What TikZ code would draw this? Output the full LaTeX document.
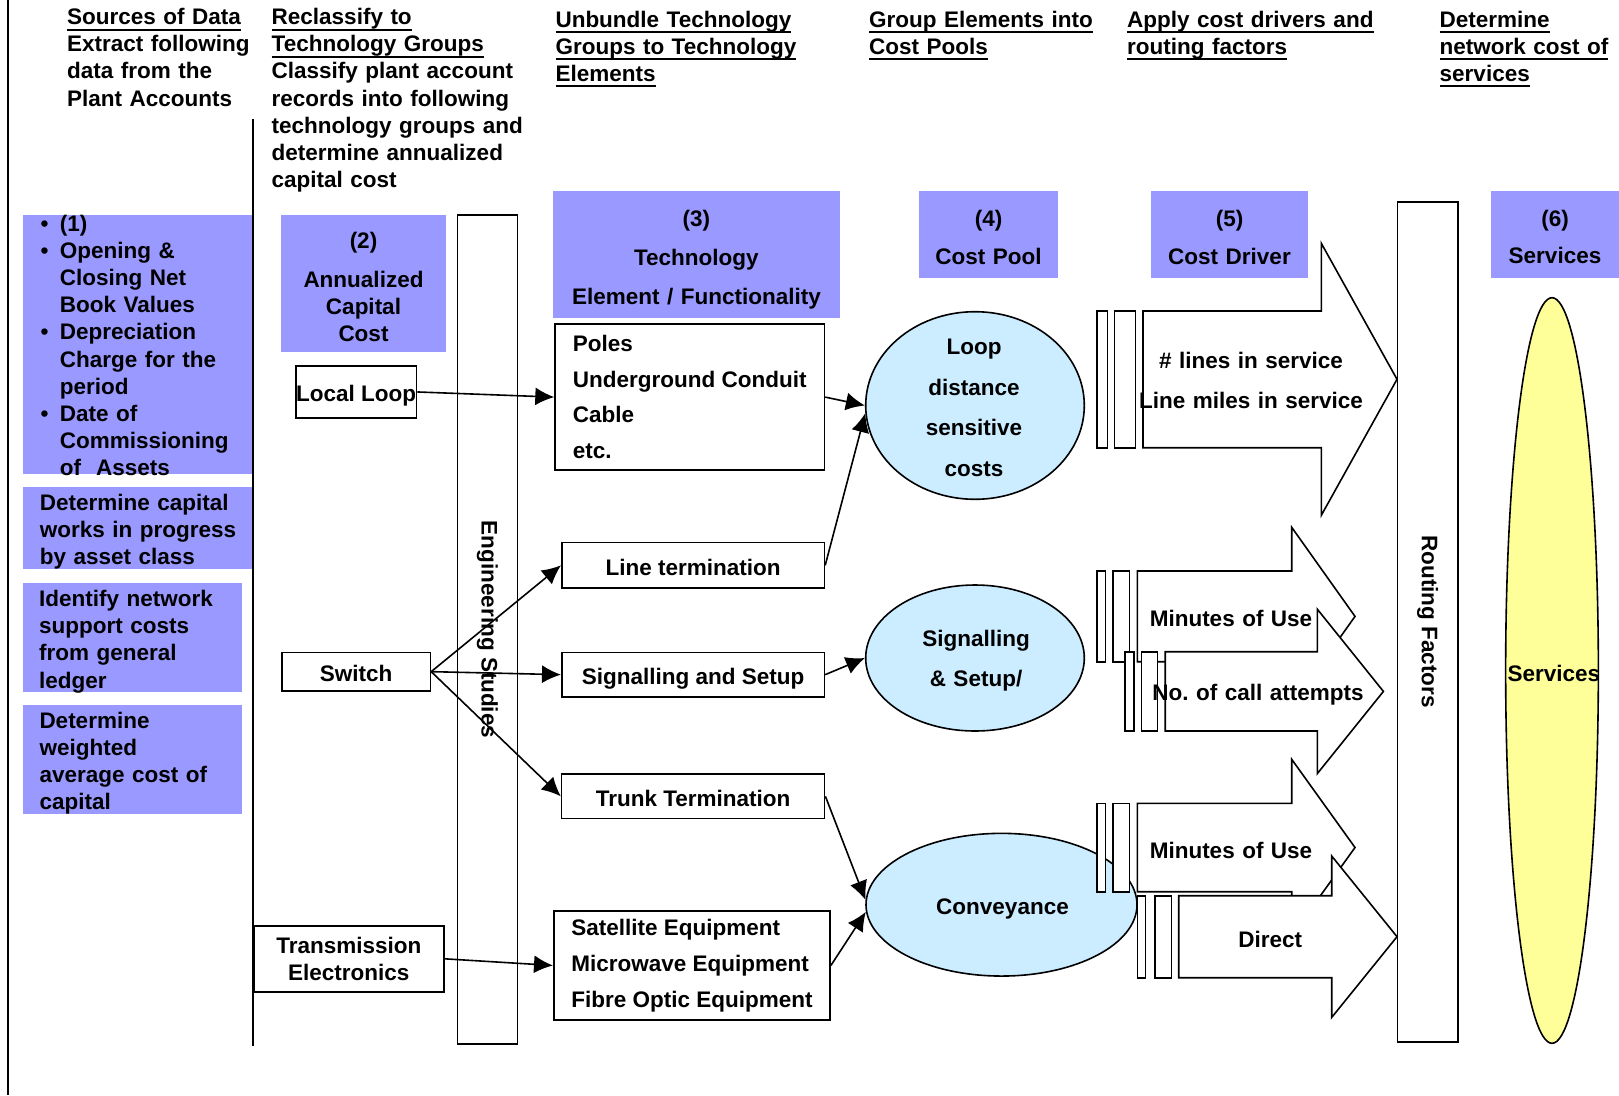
\documentclass[tikz,border=0pt]{standalone}
\usepackage{fontspec}
\setmainfont{Liberation Sans}
\usetikzlibrary{arrows.meta,shapes.geometric}

\definecolor{stepblue}{RGB}{153,153,255}
\definecolor{poolblue}{RGB}{204,236,255}
\definecolor{svcyellow}{RGB}{255,255,153}

% underlined heading line
\newcommand\hdr[1]{\leavevmode\setbox0\hbox{#1}\rlap{\rule[-6pt]{\wd0}{2pt}}\box0}
\newcommand\bul{\leavevmode\makebox[16.6pt][l]{\hspace*{-2.5pt}\textbullet}}
\newcommand\ind{\leavevmode\hspace*{16.6pt}}

\begin{document}
\begin{tikzpicture}[x=1pt,y=-1pt,
  txt/.style={font=\bfseries\fontsize{22.5}{27.2}\selectfont, inner sep=0pt,
              text width=#1, align=left, anchor=base west},
  txt/.default=260pt,
  ctr/.style={font=\bfseries\fontsize{22.5}{#1}\selectfont, inner sep=0pt,
              text width=300pt, align=center, anchor=base},
  ctr/.default=27.2pt,
  blu/.style={fill=stepblue, inner sep=0pt, anchor=north west},
  wbox/.style={draw, line width=1.6pt, fill=white, inner sep=0pt,
               font=\bfseries\fontsize{22.5}{27.2}\selectfont},
  tbox/.style={wbox, anchor=north west, text height=20pt, text depth=0pt},
  pool/.style={ellipse, draw, line width=1.6pt, fill=poolblue, inner sep=0pt},
  fat/.style={draw, line width=1.6pt, fill=white},
  arr/.style={-{Latex[length=19pt,width=18pt]}, line width=1.6pt},
  colsep/.style={line width=1.8pt}]
\useasboundingbox (0,0) rectangle (1619,1095);
% ---- column headings ----
\node[txt=300pt] (h1) at (67,24.5)
  {\hdr{Sources of Data}\\Extract following\\data from the\\Plant Accounts};
\node[txt=300pt] (h2) at (271.5,24.5)
  {\hdr{Reclassify to}\\\hdr{Technology Groups}\\Classify plant account\\
   records into following\\technology groups and\\determine annualized\\capital cost};
\node[txt=300pt] (h3) at (555.3,27)
  {\hdr{Unbundle Technology}\\\hdr{Groups to Technology}\\\hdr{Elements}};
\node[txt=300pt] (h4) at (869,27) {\hdr{Group Elements into}\\\hdr{Cost Pools}};
\node[txt=300pt] (h5) at (1127,27) {\hdr{Apply cost drivers and}\\\hdr{routing factors}};
\node[txt=300pt] (h6) at (1439.5,27) {\hdr{Determine}\\\hdr{network cost of}\\\hdr{services}};
% ---- column 1: data sources ----
\node[blu, minimum width=229pt, minimum height=259pt] (src1) at (23,215) {};
\node[txt] (src1t) at (43,231)
  {\bul(1)\\\bul Opening \&\\\ind Closing Net\\\ind Book Values\\
   \bul Depreciation\\\ind Charge for the\\\ind period\\\bul Date of\\
   \ind Commissioning\\\ind of~ Assets};
\node[blu, minimum width=230pt, minimum height=82pt] (src2) at (23,487) {};
\node[txt] (src2t) at (39.6,510.5) {Determine capital\\works in progress\\by asset class};
\node[blu, minimum width=219pt, minimum height=109pt] (src3) at (23,583) {};
\node[txt] (src3t) at (39,606.5) {Identify network\\support costs\\from general\\ledger};
\node[blu, minimum width=219pt, minimum height=109pt] (src4) at (23,705) {};
\node[txt] (src4t) at (39.3,728) {Determine\\weighted\\average cost of\\capital};
\draw[colsep] (8,0) -- (8,1095);
\draw[colsep] (253,119) -- (253,1046);
% ---- column 2: technology groups ----
\node[blu, minimum width=165pt, minimum height=136.7pt] (st2) at (281,215) {};
\node[ctr] (st2t) at (363.5,248) {(2)\\[11.8pt]Annualized\\Capital\\Cost};
\node[tbox, minimum width=120.7pt, minimum height=52.3pt] (ll) at (295,365) {Local Loop};
\node[tbox, minimum width=148.6pt, minimum height=38.3pt] (sw) at (281,651.7) {Switch};
\node[wbox, align=center, minimum width=190pt, minimum height=66pt, anchor=north west] (te) at (253,925) {Transmission\\Electronics};
\node[wbox, rotate=-90, minimum width=829pt, minimum height=60pt] (eng) at (487.3,629.5) {Engineering Studies};
% ---- column 3: technology elements ----
\node[blu, minimum width=287.2pt, minimum height=126.3pt] (st3) at (552.8,191) {};
\node[ctr=39.2pt] (st3t) at (696.4,226.3) {(3)\\Technology\\Element / Functionality};
\node[wbox, minimum width=269.3pt, minimum height=146pt, anchor=north west, align=left,
      font=\bfseries\fontsize{22.5}{35.5}\selectfont] (poles) at (554.3,323.3)
  {Poles\\Underground Conduit\\Cable\\etc.};
\node[tbox, minimum width=262.6pt, minimum height=45.6pt] (lt) at (561,541.7) {Line termination};
\node[tbox, minimum width=262.6pt, minimum height=44.3pt] (ss) at (561,651.7) {Signalling and Setup};
\node[tbox, minimum width=263pt, minimum height=44.4pt] (tt) at (560.8,773.3) {Trunk Termination};
\node[wbox, minimum width=276.3pt, minimum height=109.3pt, anchor=north west, align=left,
      font=\bfseries\fontsize{22.5}{35.8}\selectfont] (sat) at (553,910)
  {Satellite Equipment\\Microwave Equipment\\Fibre Optic Equipment};
% ---- column 4: cost pools ----
\node[blu, minimum width=139pt, minimum height=86.7pt] (st4) at (919,191) {};
\node[ctr=37.7pt] (st4t) at (988.5,226.3) {(4)\\Cost Pool};
\node[pool, minimum width=218.6pt, minimum height=187.6pt] (loop) at (975,405.5) {};
\node[ctr=40.5pt] (loopt) at (974,354.7) {Loop\\distance\\sensitive\\costs};
\node[pool, minimum width=218.6pt, minimum height=146pt] (sig) at (975,658) {};
\node[ctr=40pt] (sigt) at (976,646.3) {Signalling\\\& Setup/};
\node[pool, minimum width=271pt, minimum height=142.7pt] (conv) at (1001.5,904.7) {};
\node[ctr] (convt) at (1002.5,914.7) {Conveyance};
% ---- column 5: cost drivers ----
\node[blu, minimum width=157pt, minimum height=86.7pt] (st5) at (1151,191) {};
\node[ctr=37.7pt] (st5t) at (1229.5,226.3) {(5)\\Cost Driver};
\node[wbox, rotate=-90, minimum width=840pt, minimum height=60.4pt] (rf) at (1427.5,621.7) {Routing Factors};
% lines in service
\draw[fat] (1097,311) rectangle (1107.4,447.7);
\draw[fat] (1114.5,311) rectangle (1135.6,447.7);
\draw[fat] (1143,311) -- (1321.3,311) -- (1321.3,243.3) -- (1397,379.3)
  -- (1321.3,515.3) -- (1321.3,447.7) -- (1143,447.7) -- cycle;
\node[ctr=40pt] (drv1) at (1251,368) {\# lines in service\\Line miles in service};
% minutes of use (signalling)
\draw[fat] (1097,571) rectangle (1105.6,661.7);
\draw[fat] (1112.8,571) rectangle (1129.5,661.7);
\draw[fat] (1137.4,571) -- (1291.7,571) -- (1291.7,527.3) -- (1355,616.4)
  -- (1291.7,705.5) -- (1291.7,661.7) -- (1137.4,661.7) -- cycle;
\node[ctr] (drv2) at (1231,626.3) {Minutes of Use};
% call attempts
\draw[fat] (1125.2,651.7) rectangle (1133.8,731);
\draw[fat] (1141.3,651.7) rectangle (1157.3,731);
\draw[fat] (1165.2,651.7) -- (1317.4,651.7) -- (1317.4,609.3) -- (1383.4,691.4)
  -- (1317.4,773.5) -- (1317.4,731) -- (1165.2,731) -- cycle;
\node[ctr] (drv3) at (1258,700.7) {No.\ of call attempts};
% minutes of use (conveyance)
\draw[fat] (1097,803.3) rectangle (1105.6,891.7);
\draw[fat] (1112.8,803.3) rectangle (1129.5,891.7);
\draw[fat] (1137.4,803.3) -- (1291.7,803.3) -- (1291.7,759.3) -- (1355,847.5)
  -- (1291.7,935.7) -- (1291.7,891.7) -- (1137.4,891.7) -- cycle;
\node[ctr] (drv4) at (1231,858) {Minutes of Use};
% direct
\draw[fat] (1137.4,895.7) rectangle (1145.6,977.7);
\draw[fat] (1155.2,895.7) rectangle (1171.6,977.7);
\draw[fat] (1178.7,895.7) -- (1331.7,895.7) -- (1331.7,856) -- (1397,936.7)
  -- (1331.7,1017.4) -- (1331.7,977.7) -- (1178.7,977.7) -- cycle;
\node[ctr] (drv5) at (1270.3,947) {Direct};
% ---- column 6: services ----
\node[blu, minimum width=128pt, minimum height=86.7pt] (st6) at (1491,191) {};
\node[ctr=37.7pt] (st6t) at (1555,226) {(6)\\Services};
\node[pool, fill=svcyellow, minimum width=92.7pt, minimum height=745.6pt] (svc) at (1552,670.5) {};
\node[ctr] (svct) at (1553.8,681.3) {Services};
% ---- connectors ----
\draw[arr] (ll.east) -- (poles.west);
\draw[arr] (sw.east) -- (lt.west);
\draw[arr] (sw.east) -- (ss.west);
\draw[arr] (sw.east) -- (tt.west);
\draw[arr] (te.east) -- (sat.west);
\draw[arr] (poles.east) -- (loop.west);
\draw[arr] (lt.east) -- (loop.184);
\draw[arr] (ss.east) -- (sig.west);
\draw[arr] (tt.east) -- (conv.178);
\draw[arr] (sat.east) -- (conv.183);
\end{tikzpicture}
\end{document}
